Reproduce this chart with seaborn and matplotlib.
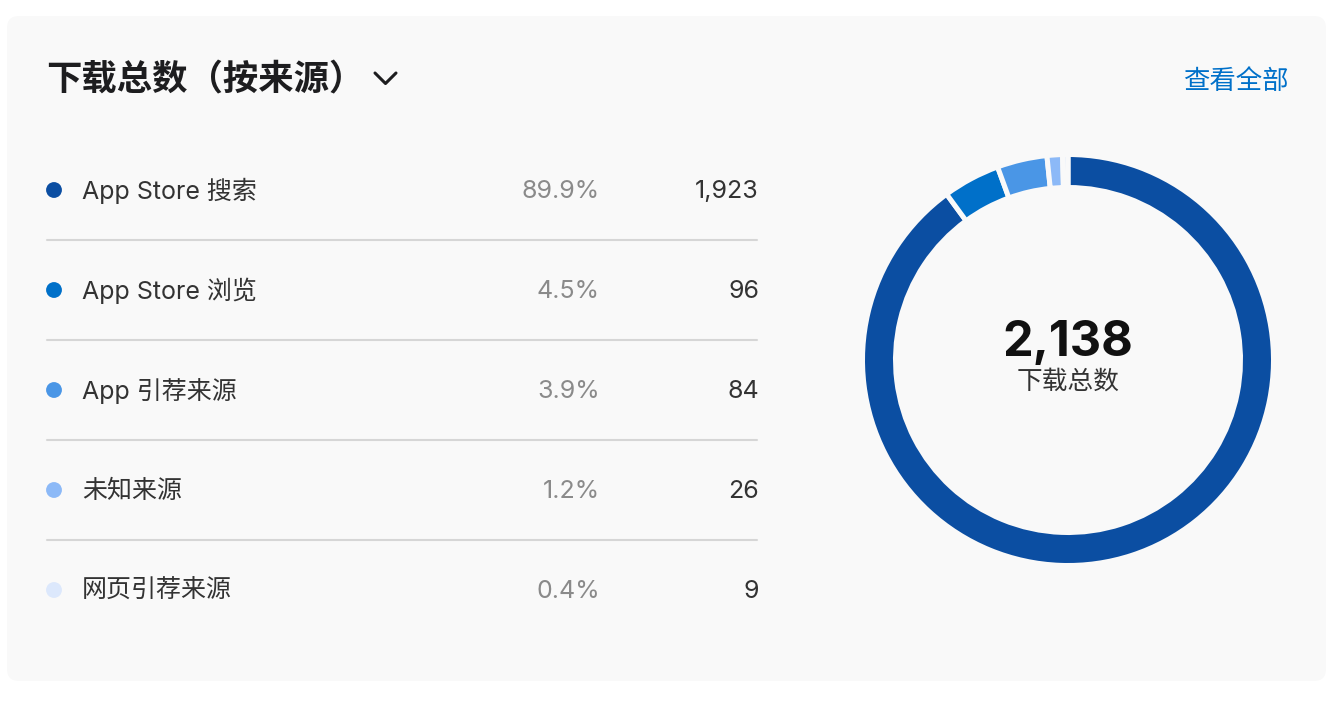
import matplotlib
matplotlib.use("Agg")
import matplotlib.pyplot as plt
import pandas as pd
import seaborn as sns
from matplotlib.patches import FancyBboxPatch

W, H, DPI = 1326, 708, 100

TITLE = "下载总数（按来源）"
LINK_TEXT = "查看全部"
CENTER_LABEL = "下载总数"
SOURCES = ["App Store 搜索", "App Store 浏览", "App 引荐来源", "未知来源", "网页引荐来源"]
PERCENTS = ["89.9%", "4.5%", "3.9%", "1.2%", "0.4%"]
COUNTS = [1923, 96, 84, 26, 9]
COLORS = ["#0b4ea2", "#0070c9", "#4a96e6", "#8cb9f7", "#dce8fc"]

CARD_BG = "#f9f9f9"
TEXT_DARK = "#1d1d1f"
TEXT_BODY = "#333333"
TEXT_GRAY = "#8a8a8a"
LINK_BLUE = "#0070c9"
RULE_GRAY = "#d6d6d6"


def main() -> None:
    sns.set_theme(style="white")
    plt.rcParams["font.family"] = ["Inter", "Noto Sans CJK SC", "DejaVu Sans"]

    df = pd.DataFrame({"source": SOURCES, "percent": PERCENTS, "count": COUNTS, "color": COLORS})
    df["row_y"] = 190 + 100 * df.index

    fig = plt.figure(figsize=(W / DPI, H / DPI), dpi=DPI)
    fig.patch.set_facecolor("white")

    # full-figure axes in pixel units for the card, the list and the labels
    ax = fig.add_axes([0, 0, 1, 1])
    ax.set_xlim(0, W)
    ax.set_ylim(H, 0)
    ax.axis("off")

    card = FancyBboxPatch((7, 16), 1319, 665, boxstyle="round,pad=0,rounding_size=12",
                          facecolor=CARD_BG, edgecolor="none", zorder=0)
    ax.add_patch(card)

    ax.text(46, 80, TITLE, fontsize=25.5, fontweight="bold", color=TEXT_DARK, va="center", ha="left")
    ax.plot([375, 385.5, 396], [73, 83.5, 73], color=TEXT_DARK, lw=2.2, solid_capstyle="round",
            solid_joinstyle="round")
    ax.text(1289, 82, LINK_TEXT, fontsize=19, color=LINK_BLUE, va="center", ha="right")

    sns.scatterplot(data=df, x=[54] * len(df), y="row_y", hue="source", palette=COLORS,
                    s=130, edgecolor="none", legend=False, ax=ax, zorder=3)

    for _, row in df.iterrows():
        y = row["row_y"] + 1
        ax.text(82, y, row["source"], fontsize=18, color=TEXT_BODY, va="center", ha="left")
        ax.text(600, y, row["percent"], fontsize=18, color=TEXT_GRAY, va="center", ha="right")
        ax.text(759, y, f"{row['count']:,}", fontsize=18, color=TEXT_BODY, va="center", ha="right")

    for y in df["row_y"].iloc[:-1] + 50:
        ax.plot([47, 757], [y, y], color=RULE_GRAY, lw=1.5)

    ax.set_xlim(0, W)
    ax.set_ylim(H, 0)

    # donut; the edge line eats half its width on each side, so draw it a bit larger
    cx, cy, r = 1068, 360, 205.5
    dax = fig.add_axes([(cx - r) / W, (H - cy - r) / H, 2 * r / W, 2 * r / H])
    dax.pie(df["count"], colors=df["color"], startangle=90, counterclock=False, radius=1.0,
            wedgeprops=dict(width=33 / r, edgecolor=CARD_BG, linewidth=3.6))
    dax.set_aspect("equal")
    dax.set_xlim(-1.0, 1.0)
    dax.set_ylim(-1.0, 1.0)
    dax.axis("off")

    total = int(df["count"].sum())
    ax.text(cx, 343, f"{total:,}", fontsize=35, fontweight="bold", color="#111111",
            va="center", ha="center")
    ax.text(cx, 382, CENTER_LABEL, fontsize=18.5, color=TEXT_BODY, va="center", ha="center")

    fig.savefig("out.png", dpi=DPI, facecolor=fig.get_facecolor())
    plt.close(fig)


if __name__ == "__main__":
    main()
